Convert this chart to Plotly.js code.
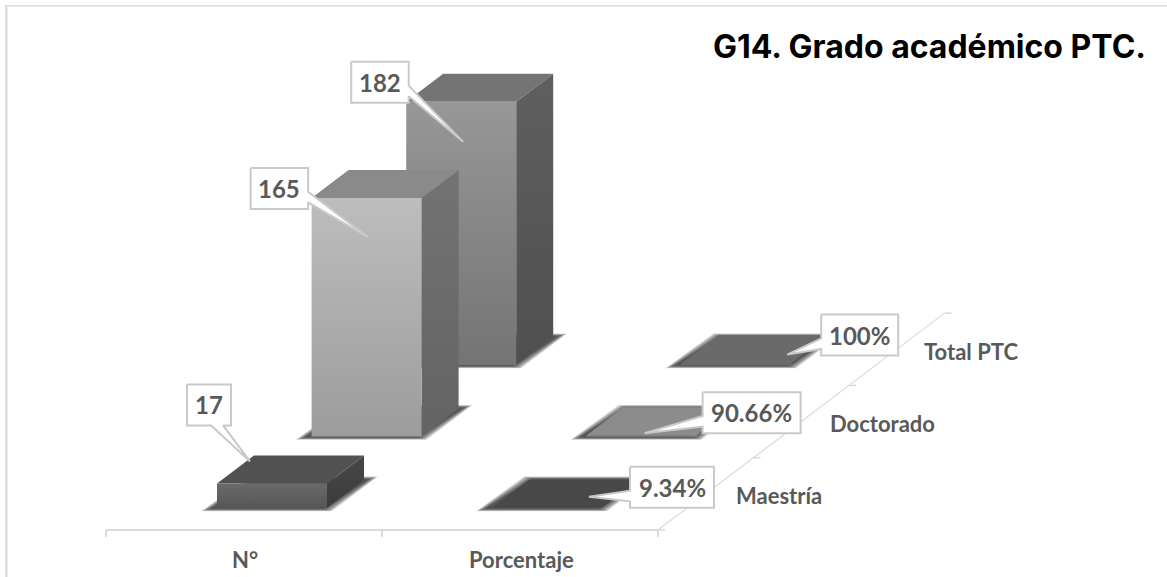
<!DOCTYPE html>
<html><head><meta charset="utf-8">
<script src="https://cdn.plot.ly/plotly-3.0.1.min.js"></script>
<style>html,body{margin:0;padding:0;background:#fff}#chart{width:1167px;height:577px}</style>
</head><body><div id="chart"></div>
<script>
// ---- data ----
const categories = ['N°', 'Porcentaje'];
const seriesNames = ['Maestría', 'Doctorado', 'Total PTC'];
const maestria = [17, 0.0934];
const doctorado = [165, 0.9066];
const totalPTC = [182, 1];
const seriesValues = [maestria, doctorado, totalPTC];
const chartTitle = 'G14. Grado académico PTC.';

// ---- oblique projection of the 3-D column space onto the plot ----
const view = {ox: 217, oy: 508, catStep: 275, serStepX: 94.6, serStepY: -71.5,
  barW: 110, depthX: 37, depthY: -28, unit: 1.446};
function proj(cat, ser, val, fw, fd) {
  return [view.ox + cat * view.catStep + ser * view.serStepX + fw * view.barW + fd * view.depthX,
          view.oy + ser * view.serStepY + fd * view.depthY - val * view.unit];
}
function poly(points, style) {
  const xs = points.map(p => p[0]); const ys = points.map(p => p[1]);
  xs.push(xs[0]); ys.push(ys[0]);
  return Object.assign({type: 'scatter', mode: 'lines', x: xs, y: ys, fill: 'toself',
    hoverinfo: 'skip', showlegend: false, line: {width: 0, color: 'rgba(0,0,0,0)'}}, style);
}
function grad(top, bottom) {
  return {type: 'vertical', colorscale: [[0, bottom], [1, top]]};
}
// face colours: [frontTop, frontBottom, sideTop, sideBottom, top] per series, category
const faces = [
  [['#6a6a6a', '#565656', '#474747', '#3c3c3c', '#515151'], ['#4a4a4a', '#4a4a4a', '#3c3c3c', '#3c3c3c', '#484848']],
  [['#bdbdbd', '#9c9c9c', '#737373', '#636363', '#8a8a8a'], ['#8e8e8e', '#8e8e8e', '#6a6a6a', '#6a6a6a', '#8c8c8c']],
  [['#979797', '#747474', '#5f5f5f', '#4f4f4f', '#747474'], ['#6c6c6c', '#6c6c6c', '#505050', '#505050', '#6a6a6a']]
];
const traces = [];
// axes of the floor
const axis = {color: '#d9d9d9', width: 2};
function seg(a, b, w) {
  return {type: 'scatter', mode: 'lines', x: [a[0], b[0]], y: [a[1], b[1]], hoverinfo: 'skip',
    showlegend: false, line: {color: axis.color, width: w || axis.width}};
}
const floorY = 530;
const floorX = k => 106 + k * 276;
traces.push(seg([floorX(0), floorY], [floorX(2), floorY]));
categories.concat(['']).forEach((c, k) => traces.push(seg([floorX(k), floorY], [floorX(k), floorY + 7])));
const depthPt = k => [floorX(2) + k * 95.5, floorY - k * 72.3];
traces.push(seg(depthPt(0), depthPt(3), 1.1));
[0, 1, 2, 3].forEach(k => { const p = depthPt(k); traces.push(seg(p, [p[0] + 7, p[1]], 1.5)); });

// bars, back row first
const shadowSteps = [9, 8, 7, 6, 5, 4, 3, 2, 1, 0];
for (let s = seriesValues.length - 1; s >= 0; s--) {
  for (let c = 0; c < categories.length; c++) {
    const v = seriesValues[s][c];
    const f = faces[s][c];
    // soft floor shadow built from stacked translucent layers
    const fl = proj(c, s, 0, 0, 0), fr = proj(c, s, 0, 1, 0), br = proj(c, s, 0, 1, 1), bl = proj(c, s, 0, 0, 1);
    shadowSteps.forEach(e => {
      traces.push(poly([
        [fl[0] - 7 - e, fl[1] + 0.8 + e * 0.28],
        [fr[0] - 4 + e, fr[1] + 0.8 + e * 0.28],
        [br[0] + 5 + e, br[1] - 0.8 - e * 0.3],
        [bl[0] + 4 - e, bl[1] - 0.8 - e * 0.3]
      ], {fillcolor: 'rgba(30,30,30,0.13)'}));
    });
    traces.push(poly([proj(c, s, 0, 1, 0), proj(c, s, v, 1, 0), proj(c, s, v, 1, 1), proj(c, s, 0, 1, 1)],
      {fillgradient: grad(f[2], f[3])}));
    traces.push(poly([proj(c, s, v, 0, 0), proj(c, s, v, 1, 0), proj(c, s, v, 1, 1), proj(c, s, v, 0, 1)],
      {fillcolor: f[4]}));
    traces.push(poly([proj(c, s, 0, 0, 0), proj(c, s, 0, 1, 0), proj(c, s, v, 1, 0), proj(c, s, v, 0, 0)],
      {fillgradient: grad(f[0], f[1])}));
  }
}

// callouts: box and pointer offsets from the bar's projected top-front-left corner
const boxW = [[44, 84], [57.5, 98], [57.5, 77]];
const boxAt = [[[-30, -99], [138, -41]], [[-61, -30], [116, -43]], [[-55, -40], [140, -49]]];
const tipAt = [[[33, -22], [97, -11]], [[56, 39], [58, -2]], [[57, 40], [106, -9]]];
const boxH = 41;
const annotations = [];
for (let s = seriesValues.length - 1; s >= 0; s--) {
  for (let c = 0; c < categories.length; c++) {
    const v = seriesValues[s][c];
    const a = proj(c, s, v, 0, 0);
    const L = a[0] + boxAt[s][c][0], T = a[1] + boxAt[s][c][1], W = boxW[s][c];
    const R = L + W, B = T + boxH;
    const tip = [a[0] + tipAt[s][c][0], a[1] + tipAt[s][c][1]];
    let pts;
    if (c === 0 && s === 0) {
      pts = [[L, T], [R, T], [R, B], [L + W * 0.82, B], tip, [L + W * 0.55, B], [L, B]];
    } else if (tip[0] > R) {
      pts = [[L, T], [R, T], [R, T + boxH * 0.58], tip, [R, T + boxH * 0.84], [R, B], [L, B]];
    } else {
      pts = [[L, T], [R, T], [R, B], [L, B], [L, T + boxH * 0.84], tip, [L, T + boxH * 0.58]];
    }
    traces.push(poly(pts, {fillcolor: '#ffffff', line: {color: '#c9c9c9', width: 2}}));
    annotations.push({xref: 'x', yref: 'y', x: (L + R) / 2, y: (T + B) / 2, showarrow: false,
      text: c === 0 ? String(v) : (+(v * 100).toFixed(2)) + '%',
      font: {family: 'Lato, sans-serif', size: 24, color: '#595959', weight: 700}});
  }
}
const labelFont = {family: 'Lato, sans-serif', size: 22, color: '#595959', weight: 700};
const seriesLabelX = [779, 882, 971];
const seriesLabelY = [495, 423.5, 351];
categories.forEach((c, k) => annotations.push({xref: 'x', yref: 'y', x: floorX(k) + 139, y: 559.5, text: c,
  showarrow: false, font: labelFont}));
seriesNames.forEach((n, k) => annotations.push({xref: 'x', yref: 'y', x: seriesLabelX[k], y: seriesLabelY[k], text: n,
  showarrow: false, font: labelFont}));

const layout = {
  width: 1167, height: 577, margin: {l: 0, r: 0, t: 0, b: 0},
  paper_bgcolor: '#ffffff', plot_bgcolor: '#ffffff', showlegend: false,
  title: {text: chartTitle, x: 1146 / 1167, xanchor: 'right', xref: 'paper', y: 1 - 47 / 577, yanchor: 'middle',
    font: {family: 'Inter, sans-serif', size: 32, color: '#000000', weight: 700}},
  xaxis: {range: [0, 1167], visible: false, fixedrange: true},
  yaxis: {range: [577, 0], visible: false, fixedrange: true},
  annotations: annotations,
  shapes: [
    {type: 'line', xref: 'paper', yref: 'paper', x0: 6.3 / 1167, x1: 6.3 / 1167, y0: 0, y1: 1 - 5 / 577,
     line: {color: '#dcdcdc', width: 2.5}, layer: 'below'},
    {type: 'line', xref: 'paper', yref: 'paper', x0: 5 / 1167, x1: 1, y0: 1 - 5.7 / 577, y1: 1 - 5.7 / 577,
     line: {color: '#dcdcdc', width: 1.5}, layer: 'below'}
  ]
};
Plotly.newPlot('chart', traces, layout, {displayModeBar: false, staticPlot: true});
</script></body></html>
